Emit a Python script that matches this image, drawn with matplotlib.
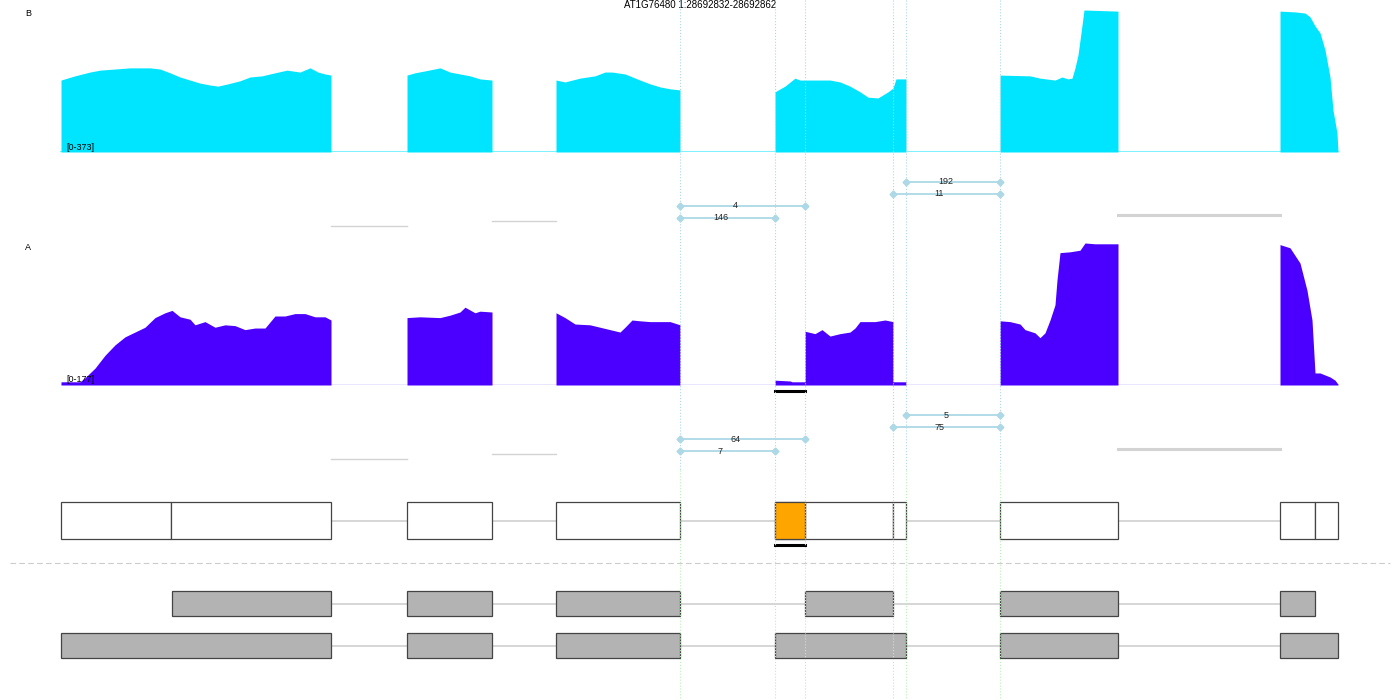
import matplotlib
matplotlib.use('Agg')
import matplotlib.pyplot as plt
from matplotlib.patches import Rectangle

plt.rcParams['font.family'] = ['Liberation Sans', 'DejaVu Sans']

TITLE = 'AT1G76480 1:28692832-28692862'

# coverage of sample B, one (positions, values) pair per exon block
b_cov = [
    ([61, 75, 90, 100, 115, 130, 150, 160, 170, 180, 190, 200, 210, 218,
      228, 240, 250, 262, 275, 287, 300, 310, 318, 325, 331],
     [189, 200, 210, 215, 218, 221, 221, 218, 208, 197, 189, 181, 176, 173,
      179, 187, 197, 200, 208, 215, 210, 221, 210, 205, 202]),
    ([407, 415, 425, 440, 450, 460, 470, 480, 492],
     [202, 208, 213, 221, 210, 205, 200, 192, 189]),
    ([556, 565, 580, 595, 605, 612, 625, 640, 650, 660, 670, 680],
     [189, 184, 194, 200, 210, 210, 205, 189, 179, 171, 166, 163]),
    ([775, 785, 795, 800, 805, 830, 840, 850, 860, 868, 878, 888, 893, 896,
      906],
     [158, 173, 194, 189, 189, 189, 184, 173, 158, 144, 142, 158, 168, 192,
      192]),
    ([1000, 1030, 1040, 1055, 1062, 1068, 1072, 1075, 1078, 1081, 1084,
      1118],
     [202, 200, 194, 189, 197, 192, 194, 221, 255, 313, 373, 370]),
    ([1280, 1295, 1305, 1310, 1315, 1320, 1325, 1330, 1333, 1337, 1338],
     [370, 368, 365, 355, 331, 313, 268, 197, 110, 50, 0]),
]

# coverage of sample A
a_cov = [
    ([61, 80, 85, 95, 105, 115, 125, 135, 145, 155, 165, 172, 180, 190,
      195, 205, 215, 225, 235, 245, 255, 265, 275, 285, 295, 305, 315, 325,
      331],
     [4, 4, 9, 21, 37, 50, 60, 66, 72, 84, 90, 93, 85, 82, 75, 79, 72, 75,
      74, 69, 71, 71, 86, 86, 89, 89, 85, 85, 81]),
    ([407, 420, 440, 450, 460, 465, 475, 480, 492],
     [84, 85, 84, 87, 91, 97, 90, 92, 91]),
    ([556, 565, 575, 590, 600, 610, 620, 625, 632, 640, 650, 670, 680],
     [90, 84, 76, 75, 72, 69, 66, 72, 81, 80, 79, 79, 75]),
    ([775, 790, 792, 805, 805, 815, 822, 830, 840, 850, 855, 860, 875, 885,
      893, 893, 906],
     [6, 5, 4, 4, 67, 64, 69, 61, 64, 66, 71, 79, 79, 81, 79, 4, 4]),
    ([1000, 1010, 1020, 1025, 1035, 1040, 1045, 1050, 1055, 1057, 1060,
      1070, 1080, 1085, 1095, 1118],
     [80, 79, 76, 69, 65, 59, 65, 81, 100, 131, 165, 166, 168, 177, 176,
      176]),
    ([1280, 1290, 1300, 1307, 1312, 1315, 1320, 1330, 1335, 1338],
     [175, 171, 152, 118, 81, 15, 15, 10, 6, 1]),
]

b_max = 373
a_max = 177

# splice junctions (same coordinates in both samples)
junc_start = [906, 893, 680, 680]
junc_end = [1000, 1000, 805, 775]
b_counts = [192, 11, 4, 146]
a_counts = [5, 75, 64, 7]

# unlabelled constitutive introns
intron_start = [331, 492, 1118]
intron_end = [407, 556, 1280]

# exons of the main transcript
tx_starts = [61, 171, 407, 556, 775, 805, 893, 1000, 1280, 1315]
tx_ends = [171, 331, 492, 680, 805, 893, 906, 1118, 1315, 1338]
hl_start, hl_end = 775, 805

# gene models
model1_starts = [172, 407, 556, 805, 1000, 1280]
model1_ends = [331, 492, 680, 893, 1118, 1315]
model2_starts = [61, 407, 556, 775, 1000, 1280]
model2_ends = [331, 492, 680, 906, 1118, 1338]

guides = [680, 775, 805, 893, 906, 1000]

B_COLOR = '#00E5FF'
A_COLOR = '#4B00FF'
JUNC = '#ADD8E6'


def build_track(blocks):
    xs, ys = [], []
    for pos, val in blocks:
        xs += [pos[0]] + pos + [pos[-1]]
        ys += [0] + val + [0]
    return xs, ys


def draw_coverage(fig, blocks, top_px, vmax, color, line_color, lw):
    ax = fig.add_axes([0, 1 - (top_px + 142) / 700, 1, 142 / 700])
    xs, ys = build_track(blocks)
    ax.fill_between(xs, ys, 0, color=color, lw=0)
    ax.plot([xs[0], xs[-1]], [0, 0], color=line_color, lw=lw, zorder=0)
    ax.set_xlim(0, 1400)
    ax.set_ylim(0, vmax)
    ax.axis('off')
    return ax


def draw_junctions(ax, counts, top, gray_levels):
    for i, (s, e, c) in enumerate(zip(junc_start, junc_end, counts)):
        y = top + 12 * i
        ax.plot([s, e], [y, y], color=JUNC, lw=1.3, marker='D',
                markersize=3.5, zorder=3)
        ax.text((s + e) / 2 - 7, y, str(c), fontsize=6.5, ha='center',
                va='center', color='#222222', zorder=4)
    for s, e, y, w in zip(intron_start, intron_end, gray_levels,
                          [1.0, 1.0, 2.2]):
        ax.plot([s, e], [y, y], color='#D3D3D3', lw=w, zorder=2)


def draw_boxes(ax, starts, ends, y0, h, face):
    ax.plot([ends[0], starts[-1]], [y0 + h / 2, y0 + h / 2],
            color='#D0D0D0', lw=1.2, zorder=1)
    for s, e in zip(starts, ends):
        ax.add_patch(Rectangle((s, y0), e - s, h, facecolor=face,
                               edgecolor='#444444', lw=0.9, zorder=2))


def main():
    fig = plt.figure(figsize=(14, 7), dpi=100)
    draw_coverage(fig, b_cov, 10, b_max, B_COLOR, '#80F2FF', 1.5)
    draw_coverage(fig, a_cov, 243, a_max, A_COLOR, '#9A80FF', 1.0)

    ov = fig.add_axes([0, 0, 1, 1])
    ov.patch.set_visible(False)
    ov.set_xlim(0, 1400)
    ov.set_ylim(700, 0)
    ov.axis('off')

    ov.text(700, 5, TITLE, fontsize=7, ha='center', va='center')
    ov.text(25, 14, 'B', fontsize=6.5, ha='left', va='center')
    ov.text(25, 247, 'A', fontsize=6.5, ha='left', va='center')
    ov.text(66, 147, '[0-%d]' % b_max, fontsize=6.5, va='center')
    ov.text(66, 380, '[0-%d]' % a_max, fontsize=6.5, va='center')

    for x in guides:
        ov.plot([x, x], [0, 470], color=JUNC, lw=0.8, ls=':', zorder=5)
        ov.plot([x, x], [470, 700], color='#B8F0B8', lw=0.8, ls=':',
                zorder=5)

    draw_junctions(ov, b_counts, 182, [226, 221, 215])
    draw_junctions(ov, a_counts, 415, [459, 454, 449])

    ov.plot([hl_start, hl_end], [391, 391], color='black', lw=2.2)

    draw_boxes(ov, tx_starts, tx_ends, 502, 37, 'white')
    ov.add_patch(Rectangle((hl_start, 502), hl_end - hl_start, 37,
                           facecolor='#FFA500', edgecolor='#444444',
                           lw=0.9, zorder=3))
    ov.plot([hl_start, hl_end], [545, 545], color='black', lw=2.2)

    ov.plot([10, 1390], [563, 563], color='#CCCCCC', lw=0.8,
            ls=(0, (5, 3)))

    draw_boxes(ov, model1_starts, model1_ends, 591, 25, '#B3B3B3')
    draw_boxes(ov, model2_starts, model2_ends, 633, 25, '#B3B3B3')

    fig.savefig('out.png', dpi=100)


if __name__ == '__main__':
    main()
